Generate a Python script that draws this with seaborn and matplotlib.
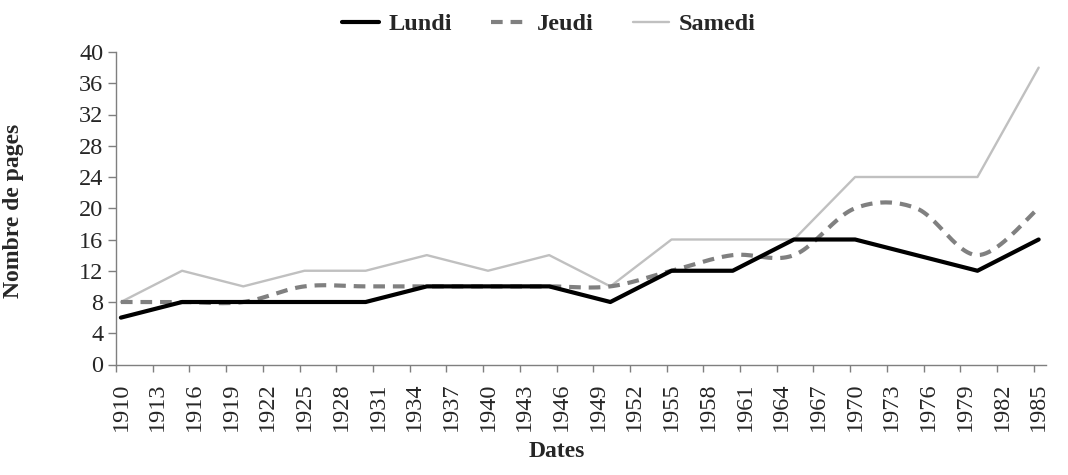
import numpy as np
import pandas as pd
import seaborn as sns
from matplotlib import pyplot as plt

# data (pages per issue)
years = [1910, 1915, 1920, 1925, 1930, 1935, 1940, 1945,
         1950, 1955, 1960, 1965, 1970, 1975, 1980, 1985]
lundi = [6, 8, 8, 8, 8, 10, 10, 10, 8, 12, 12, 16, 16, 14, 12, 16]
jeudi = [8, 8, 8, 10, 10, 10, 10, 10, 10, 12, 14, 14, 20, 20, 14, 20]
samedi = [8, 12, 10, 12, 12, 14, 12, 14, 10, 16, 16, 16, 24, 24, 24, 38]

tick_years = list(range(1910, 1986, 3))
y_ticks = list(range(0, 41, 4))


def smooth(xs, ys, n=24):
    # excel-like smoothed line (bezier through the points)
    xs = np.asarray(xs, float)
    ys = np.asarray(ys, float)
    last = len(xs) - 1
    ox, oy = [], []
    for i in range(last):
        p0 = max(i - 1, 0)
        p3 = min(i + 2, last)
        cx1 = xs[i] + (xs[i + 1] - xs[p0]) / 6
        cy1 = ys[i] + (ys[i + 1] - ys[p0]) / 6
        cx2 = xs[i + 1] - (xs[p3] - xs[i]) / 6
        cy2 = ys[i + 1] - (ys[p3] - ys[i]) / 6
        t = np.linspace(0, 1, n, endpoint=(i == last - 1))
        a, b, c, d = (1 - t) ** 3, 3 * (1 - t) ** 2 * t, 3 * (1 - t) * t ** 2, t ** 3
        ox.append(a * xs[i] + b * cx1 + c * cx2 + d * xs[i + 1])
        oy.append(a * ys[i] + b * cy1 + c * cy2 + d * ys[i + 1])
    return np.concatenate(ox), np.concatenate(oy)


sns.set_style("ticks")
plt.rcParams['font.family'] = ['Liberation Serif', 'DejaVu Serif']

fig = plt.figure(figsize=(10.68, 4.75), dpi=100)
x0, w = 116, 930
ax = fig.add_axes([x0 / 1068, (475 - 364.5) / 475, w / 1068, 312.5 / 475])

df = pd.DataFrame({'year': years, 'Lundi': lundi, 'Samedi': samedi})
jx, jy = smooth(years, jeudi)

sns.lineplot(data=df, x='year', y='Samedi', ax=ax, color='#c0c0c0', lw=1.7,
             label='Samedi', estimator=None)
sns.lineplot(x=jx, y=jy, ax=ax, color='#808080', lw=3.0,
             linestyle=(0, (2.8, 1.9)), label='Jeudi', estimator=None, sort=False)
sns.lineplot(data=df, x='year', y='Lundi', ax=ax, color='black', lw=3.0,
             label='Lundi', estimator=None)

ax.set_xlim(1909.6, 1985.6)
ax.set_ylim(0, 40)

# tick marks between categories, labels on the years
ax.set_xticks([y - 0.4 for y in tick_years])
ax.set_xticklabels([])
ax.set_xticks(tick_years, minor=True)
ax.set_xticklabels([str(y) for y in tick_years], minor=True, rotation=90,
                   fontsize=17.5)
ax.tick_params(axis='x', which='major', length=5, width=1, color='#7f7f7f')
ax.tick_params(axis='x', which='minor', length=0, pad=13)
ax.set_yticks(y_ticks)
ax.set_yticklabels([str(v) for v in y_ticks], fontsize=17.5)
ax.tick_params(axis='y', length=6, width=1, color='#7f7f7f', pad=3)

sns.despine(ax=ax)
for s in ['left', 'bottom']:
    ax.spines[s].set_color('#7f7f7f')
    ax.spines[s].set_linewidth(1)

ax.set_xlabel('Dates', fontsize=17, fontweight='bold')
ax.xaxis.set_label_coords((557 - x0) / w, (364.5 - 441) / 312.5)
ax.set_ylabel('Nombre de pages', fontsize=17, fontweight='bold')
ax.yaxis.set_label_coords((24 - x0) / w, 0.49)

ax.get_legend().remove()
h, l = ax.get_legend_handles_labels()
order = [l.index('Lundi'), l.index('Jeudi'), l.index('Samedi')]
fig.legend([h[i] for i in order], [l[i] for i in order], loc='center',
           bbox_to_anchor=(549 / 1068, 1 - 24 / 475), ncol=3, frameon=False,
           prop={'weight': 'bold', 'size': 17.5}, handlelength=1.5,
           columnspacing=1.6, handletextpad=0.4)

fig.savefig('out.png', dpi=100)
